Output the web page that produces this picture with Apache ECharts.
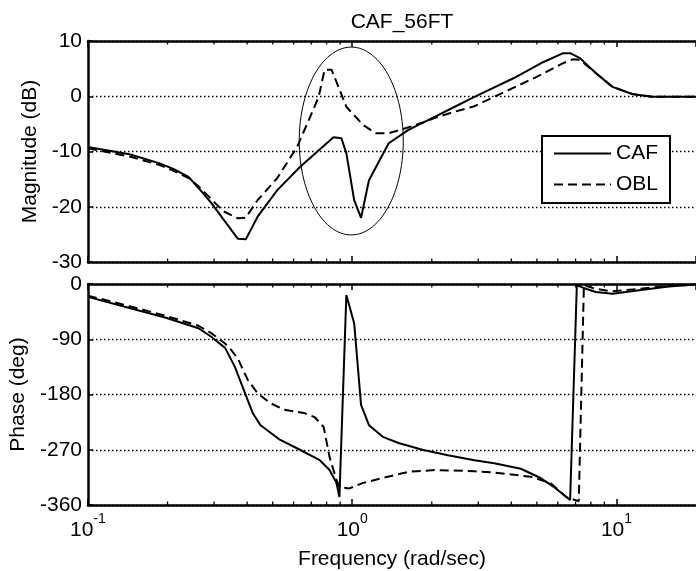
<!DOCTYPE html>
<html><head><meta charset="utf-8">
<script src="https://cdn.jsdelivr.net/npm/echarts@6/dist/echarts.min.js"></script>
<style>html,body{margin:0;padding:0;background:#fff;}#c{width:696px;height:571px;}</style>
</head><body><div id="c"></div>
<script>
// ---------- data ----------
const chartTitle = 'CAF_56FT';
const seriesNames = ['CAF', 'OBL'];
const freqRange = [0.1, 20];
const magTicks = [-30, -20, -10, 0, 10];
const phaseTicks = [-360, -270, -180, -90, 0];
const minorTickFreqs = [0.2, 0.3, 0.4, 0.5, 0.6, 0.7, 0.8, 0.9, 2, 3, 4, 5, 6, 7, 8, 9];

const cafMagFreq = [0.1, 0.1435, 0.1857, 0.2112, 0.2402, 0.2618, 0.2927, 0.3245, 0.3694, 0.3954, 0.4384, 0.5205, 0.634, 0.8494, 0.91, 0.95, 1.017, 1.08, 1.157, 1.374, 1.632, 2.058, 2.443, 2.901, 4.093, 5.296, 6.287, 6.678, 7.278, 8.349, 9.66, 11.47, 13.62, 20];
const cafMagDb   = [-9.2, -10.5, -12.1, -13.2, -14.6, -16.6, -19.3, -22.2, -25.8, -25.9, -21.8, -17.0, -12.8, -7.4, -7.6, -10.3, -18.8, -22.0, -15.2, -8.5, -6.1, -3.7, -1.9, -0.1, 3.3, 6.2, 7.8, 7.8, 6.9, 4.2, 1.7, 0.4, -0.1, -0.1];

const oblMagFreq = [0.1, 0.1435, 0.1857, 0.2112, 0.2402, 0.2618, 0.2927, 0.3245, 0.3694, 0.3954, 0.4384, 0.5205, 0.618, 0.685, 0.7465, 0.786, 0.835, 0.8716, 0.95, 1.099, 1.229, 1.374, 1.59, 1.841, 2.058, 2.443, 2.901, 3.445, 4.986, 6.287, 6.852, 7.278, 8.349, 9.66, 11.47, 13.62, 20];
const oblMagDb   = [-9.4, -10.9, -12.4, -13.5, -14.8, -16.3, -18.6, -20.8, -22.1, -22.0, -18.8, -14.8, -9.2, -4.3, -0.1, 4.8, 4.8, 2.6, -1.9, -5.2, -6.7, -6.7, -5.8, -4.8, -3.9, -2.8, -1.8, -0.1, 3.5, 6.0, 6.7, 6.6, 4.2, 1.7, 0.4, -0.1, -0.1];

const cafPhaseFreq = [0.1, 0.1435, 0.1972, 0.2618, 0.2927, 0.3302, 0.3597, 0.3694, 0.4199, 0.4498, 0.534, 0.634, 0.7534, 0.8208, 0.8716, 0.8944, 0.95, 1.017, 1.08, 1.157, 1.305, 1.497, 1.841, 2.301, 2.901, 3.445, 4.346, 5.161, 5.77, 6.678, 7.08, 7.466, 8.349, 9.66, 12.18, 15.77, 20];
const cafPhaseDeg  = [-21, -39, -55, -72, -86, -104, -135, -148, -210, -230, -254, -270, -287, -303, -324, -347, -18, -64, -197, -230, -249, -259, -270, -279, -287, -292, -301, -316, -330, -352, -2, -6, -13, -16, -10, -4, -1];

const oblPhaseFreq = [0.1, 0.1435, 0.1972, 0.2618, 0.2927, 0.3302, 0.3475, 0.3694, 0.4022, 0.4384, 0.49, 0.5527, 0.6565, 0.7217, 0.7796, 0.8208, 0.8716, 0.8944, 0.9745, 1.099, 1.305, 1.632, 2.058, 2.901, 3.445, 4.736, 5.623, 6.451, 7.2, 7.53, 8.349, 9.66, 12.18, 15.77, 20];
const oblPhaseDeg  = [-19, -36, -52, -68, -80, -97, -107, -122, -156, -178, -194, -205, -210, -217, -233, -282, -319, -331, -333, -324, -316, -306, -303, -305, -307, -314, -324, -347, -354, -2, -8, -12, -8, -3, -1];

// annotation ellipse bounding box: [freq left, freq right, dB bottom, dB top]
const ellipseBox = [0.63, 1.56, -25.1, 8.9];

// ---------- chart ----------
const FONT = '"Liberation Sans", Arial, sans-serif';
const zip = (xs, ys) => xs.map((x, i) => [x, ys[i]]);
const chart = echarts.init(document.getElementById('c'), null, {renderer: 'canvas'});

const frameLine = {show: true, onZero: false, lineStyle: {color: '#000', width: 2.5}};
const dotted = {show: true, lineStyle: {color: '#000', width: 1.3, type: [1.5, 2.5]}};

function xAxisDef(gridIndex, position, withLabels) {
  const ax = {
    type: 'log', logBase: 10, gridIndex, position,
    min: freqRange[0], max: freqRange[1],
    axisLine: frameLine,
    axisTick: {show: true, inside: true, length: 6, lineStyle: {color: '#000', width: 1.5}},
    splitLine: {show: false},
    axisLabel: {show: false}
  };
  if (withLabels) {
    ax.axisLabel = {
      show: true, margin: 15, showMaxLabel: false,
      formatter: v => {
        const e = Math.log10(v), r = Math.round(e);
        if (Math.abs(e - r) > 1e-6) return '';
        return '{b|10}{s|' + r + '}';
      },
      rich: {
        b: {fontSize: 21, fontFamily: FONT, color: '#000', lineHeight: 21, verticalAlign: 'bottom'},
        s: {fontSize: 14, fontFamily: FONT, color: '#000', lineHeight: 14, verticalAlign: 'bottom', padding: [0, 0, 15, 0]}
      }
    };
    ax.name = 'Frequency (rad/sec)';
    ax.nameLocation = 'middle';
    ax.nameGap = 44;
    ax.nameTextStyle = {fontSize: 21, fontFamily: FONT, color: '#000'};
  }
  return ax;
}

function yAxisDef(gridIndex, ticks, name, nameGap) {
  return {
    type: 'value', gridIndex,
    min: ticks[0], max: ticks[ticks.length - 1], interval: ticks[1] - ticks[0],
    axisLine: frameLine,
    axisTick: {show: true, inside: true, length: 5, lineStyle: {color: '#000', width: 1.5}},
    axisLabel: {fontSize: 21, fontFamily: FONT, color: '#000', margin: 6},
    splitLine: dotted,
    name, nameLocation: 'middle', nameGap,
    nameTextStyle: {fontSize: 21, fontFamily: FONT, color: '#000'}
  };
}

function minorTickSeries(xIdx, yIdx, yMin, yMax) {
  return {
    type: 'custom', xAxisIndex: xIdx, yAxisIndex: yIdx, clip: false, silent: true, z: 5,
    data: minorTickFreqs.map(f => [f, yMin]),
    renderItem: (params, api) => {
      const b = api.coord([api.value(0), yMin]);
      const t = api.coord([api.value(0), yMax]);
      const st = {stroke: '#000', lineWidth: 1.3};
      return {type: 'group', children: [
        {type: 'line', shape: {x1: b[0], y1: b[1], x2: b[0], y2: b[1] - 3.5}, style: st},
        {type: 'line', shape: {x1: t[0], y1: t[1], x2: t[0], y2: t[1] + 3.5}, style: st}
      ]};
    }
  };
}

const solid = {color: '#000', width: 2};
const dashed = {color: '#000', width: 2, type: [9, 5]};

const option = {
  animation: false,
  backgroundColor: '#fff',
  title: {
    text: chartTitle, left: 397, top: 7, textAlign: 'center',
    textStyle: {fontSize: 21, fontWeight: 'normal', color: '#000', fontFamily: FONT}
  },
  legend: {
    data: seriesNames, orient: 'vertical', left: 542, top: 136,
    padding: [7, 12, 8, 11], itemWidth: 57, itemHeight: 14, itemGap: 10,
    backgroundColor: '#fff', borderColor: '#000', borderWidth: 2, borderRadius: 0,
    selectedMode: false,
    itemStyle: {opacity: 0},
    textStyle: {fontSize: 21, color: '#000', fontFamily: FONT}
  },
  grid: [
    {left: 88, top: 41, width: 617, height: 221},
    {left: 88, top: 284, width: 617, height: 221}
  ],
  xAxis: [
    xAxisDef(0, 'bottom', false),
    xAxisDef(0, 'top', false),
    xAxisDef(1, 'bottom', true),
    xAxisDef(1, 'top', false)
  ],
  yAxis: [
    yAxisDef(0, magTicks, 'Magnitude (dB)', 42),
    yAxisDef(1, phaseTicks, 'Phase (deg)', 52)
  ],
  series: [
    {name: seriesNames[0], type: 'line', xAxisIndex: 0, yAxisIndex: 0, data: zip(cafMagFreq, cafMagDb),
     symbol: 'none', lineStyle: solid, itemStyle: {color: '#000'}, z: 3},
    {name: seriesNames[1], type: 'line', xAxisIndex: 0, yAxisIndex: 0, data: zip(oblMagFreq, oblMagDb),
     symbol: 'none', lineStyle: dashed, itemStyle: {color: '#000'}, z: 2},
    {name: seriesNames[0], type: 'line', xAxisIndex: 2, yAxisIndex: 1, data: zip(cafPhaseFreq, cafPhaseDeg),
     symbol: 'none', lineStyle: solid, itemStyle: {color: '#000'}, z: 3},
    {name: seriesNames[1], type: 'line', xAxisIndex: 2, yAxisIndex: 1, data: zip(oblPhaseFreq, oblPhaseDeg),
     symbol: 'none', lineStyle: dashed, itemStyle: {color: '#000'}, z: 2},
    {
      type: 'custom', xAxisIndex: 0, yAxisIndex: 0, silent: true, z: 4,
      data: [ellipseBox],
      renderItem: (params, api) => {
        const p1 = api.coord([api.value(0), api.value(3)]);
        const p2 = api.coord([api.value(1), api.value(2)]);
        const cx = (p1[0] + p2[0]) / 2, cy = (p1[1] + p2[1]) / 2;
        const rx = Math.abs(p2[0] - p1[0]) / 2, ry = Math.abs(p2[1] - p1[1]) / 2;
        const pts = [];
        for (let i = 0; i <= 120; i++) {
          const a = i / 120 * Math.PI * 2;
          pts.push([cx + rx * Math.cos(a), cy + ry * Math.sin(a)]);
        }
        return {type: 'polyline', shape: {points: pts}, style: {stroke: '#000', lineWidth: 1, fill: null}};
      }
    },
    minorTickSeries(0, 0, magTicks[0], magTicks[magTicks.length - 1]),
    minorTickSeries(2, 1, phaseTicks[0], phaseTicks[phaseTicks.length - 1])
  ]
};
chart.setOption(option);
</script></body></html>
